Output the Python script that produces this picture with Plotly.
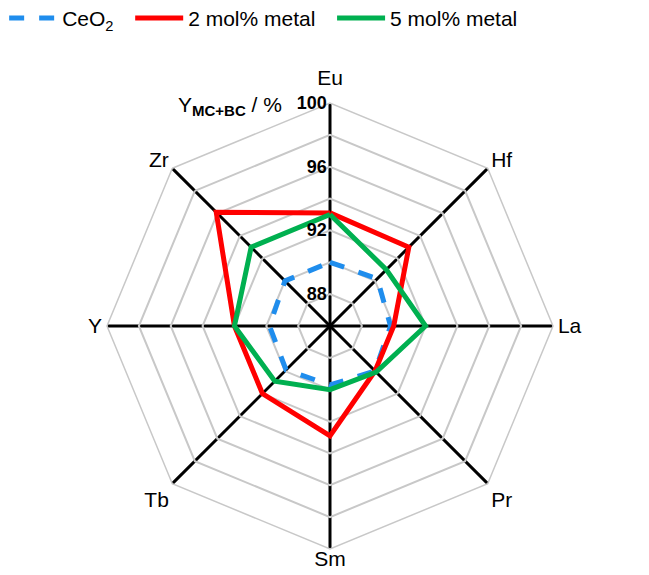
import plotly.graph_objects as go

categories = ["Eu", "Hf", "La", "Pr", "Sm", "Tb", "Y", "Zr"]
ceo2 = [90.0, 90.2, 89.8, 90.0, 89.7, 89.9, 89.8, 90.0]
metal_2 = [93.1, 93.0, 90.0, 90.0, 92.9, 92.0, 92.0, 96.1]
metal_5 = [93.0, 91.0, 92.0, 90.1, 90.0, 90.9, 92.0, 93.0]
radial_ticks = [88, 90, 92, 94, 96, 98, 100]
radial_labels = ["88", "", "92", "", "96", "", "100"]

FONT = "Arial, Liberation Sans, sans-serif"
NB = "\u00a0"

def closed(vals):
    return list(vals) + [vals[0]]

# top and bottom labels sit slightly higher in the reference
def label(c):
    if c in ("Eu", "Sm"):
        return "<sup><span style='font-size:21px'>" + c + "</span></sup>"
    return c

angular_text = [label(c) for c in categories]

fig = go.Figure()
fig.add_trace(go.Scatterpolar(
    r=closed(ceo2), theta=closed(categories), mode="lines", name="CeO<sub>2</sub>" + NB * 2,
    line=dict(color="#1f8ded", width=5, dash="dash")))
fig.add_trace(go.Scatterpolar(
    r=closed(metal_2), theta=closed(categories), mode="lines", name="2 mol% metal" + NB * 2,
    line=dict(color="#ff0000", width=5)))
fig.add_trace(go.Scatterpolar(
    r=closed(metal_5), theta=closed(categories), mode="lines", name="5 mol% metal",
    line=dict(color="#00b050", width=5)))

# page has an 8px body margin; figure coords = page coords - 8
W, H = 641, 567
cx, cy, R = 330 - 8, 326 - 8, 223
fig.update_layout(
    width=W, height=H,
    margin=dict(l=0, r=0, t=0, b=0, autoexpand=False),
    paper_bgcolor="white", plot_bgcolor="white",
    font=dict(family=FONT, size=21, color="black"),
    showlegend=True,
    legend=dict(orientation="h", x=-0.006, y=1.018, xanchor="left", yanchor="top",
                font=dict(size=21), itemwidth=48, tracegroupgap=0),
    polar=dict(
        domain=dict(x=[(cx - R) / W, (cx + R) / W], y=[(H - cy - R) / H, (H - cy + R) / H]),
        gridshape="linear",
        bgcolor="white",
        radialaxis=dict(range=[86, 100], tickvals=radial_ticks, ticktext=radial_labels,
                        angle=90, tickangle=90, side="counterclockwise",
                        showline=False, ticks="",
                        gridcolor="#c8c8c8", gridwidth=1.5,
                        tickfont=dict(size=18, family=FONT, weight="bold")),
        angularaxis=dict(direction="clockwise", rotation=90,
                         categoryorder="array", categoryarray=categories,
                         tickmode="array", tickvals=categories, ticktext=angular_text,
                         showline=True, linecolor="#c8c8c8", linewidth=1.5,
                         gridcolor="black", gridwidth=2.5,
                         ticks="", ticklen=0,
                         tickfont=dict(size=21, family=FONT)),
    ),
    annotations=[dict(text="Y<sub><span style='font-size:15px'><b>MC+BC</b></span></sub> / %",
                      x=(284 - 8) / W, y=1 - (106 - 8) / H,
                      xref="paper", yref="paper", xanchor="right", yanchor="middle",
                      showarrow=False, font=dict(size=21, family=FONT))],
)

fig.write_html("out.html")
